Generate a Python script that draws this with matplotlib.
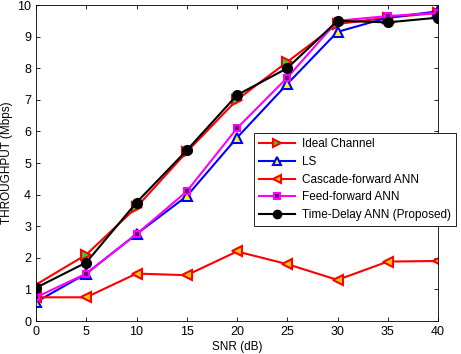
import matplotlib
matplotlib.use("Agg")
import matplotlib.pyplot as plt

snr = [0, 5, 10, 15, 20, 25, 30, 35, 40]
ideal = [1.15, 2.1, 3.6, 5.35, 7.0, 8.2, 9.4, 9.6, 9.75]
ls = [0.6, 1.5, 2.75, 3.95, 5.8, 7.5, 9.15, 9.6, 9.8]
cascade = [0.75, 0.75, 1.5, 1.45, 2.2, 1.8, 1.3, 1.88, 1.9]
feed = [0.75, 1.5, 2.75, 4.1, 6.1, 7.7, 9.5, 9.65, 9.75]
tdnn = [1.05, 1.85, 3.75, 5.4, 7.15, 8.0, 9.5, 9.45, 9.6]

labels = ["Ideal Channel", "LS", "Cascade-forward ANN",
          "Feed-forward ANN", "Time-Delay ANN (Proposed)"]


def main():
    plt.rcParams["font.family"] = ["Liberation Sans", "DejaVu Sans"]
    plt.rcParams["font.size"] = 8.5

    fig = plt.figure(figsize=(4.61, 3.54), dpi=100)
    ax = fig.add_axes([36 / 461, 1 - 321 / 354, (438 - 36) / 461, (321 - 5) / 354])

    ax.plot(snr, ideal, color="red", lw=1.5, marker=">", ms=7,
            mfc="#33cc33", mec="red", mew=1.5, label=labels[0])
    ax.plot(snr, ls, color="blue", lw=1.5, marker="^", ms=7,
            mfc="yellow", mec="blue", mew=1.5, label=labels[1])
    ax.plot(snr, cascade, color="red", lw=1.5, marker="<", ms=7,
            mfc="#ffcc00", mec="red", mew=1.5, label=labels[2])
    ax.plot(snr, feed, color="magenta", lw=1.5, marker="s", ms=5,
            mfc="#660066", mec="magenta", mew=1.5, label=labels[3])
    ax.plot(snr, tdnn, color="black", lw=1.5, marker="o", ms=7,
            mfc="black", mec="black", label=labels[4])

    ax.set_xlim(0, 40)
    ax.set_ylim(0, 10)
    ax.set_xticks(range(0, 41, 5))
    ax.set_yticks(range(0, 11))
    ax.tick_params(direction="in", top=True, right=True, length=3, width=0.6,
                   labelsize=9)
    for s in ax.spines.values():
        s.set_linewidth(0.6)
    ax.set_xlabel("SNR (dB)", labelpad=2)
    ax.set_ylabel("THROUGHPUT (Mbps)", labelpad=3)

    leg = ax.legend(loc="upper left", bbox_to_anchor=(254 / 461, 1 - 133 / 354),
                    bbox_transform=fig.transFigure, fancybox=False,
                    edgecolor="black", framealpha=1, fontsize=8.5,
                    handlelength=3.0, borderaxespad=0, labelspacing=0.48,
                    handletextpad=0.6, borderpad=0.45, markerscale=0.85)
    leg.get_frame().set_linewidth(0.6)

    fig.savefig("out.png", dpi=100)


if __name__ == "__main__":
    main()
